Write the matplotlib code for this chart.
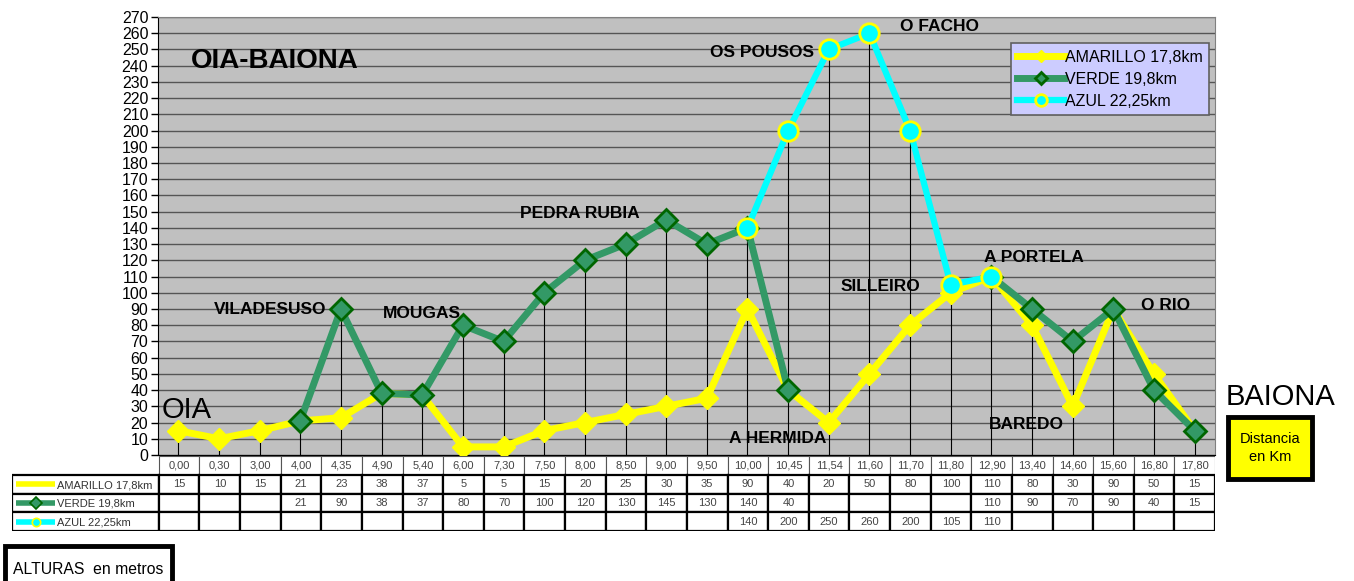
import numpy as np
import matplotlib
matplotlib.use('Agg')
import matplotlib.pyplot as plt
from matplotlib.patches import Rectangle
from matplotlib.lines import Line2D

plt.rcParams['font.family'] = ['Liberation Sans', 'DejaVu Sans']

nan = np.nan
dist = ['0,00', '0,30', '3,00', '4,00', '4,35', '4,90', '5,40', '6,00', '7,30',
        '7,50', '8,00', '8,50', '9,00', '9,50', '10,00', '10,45', '11,54',
        '11,60', '11,70', '11,80', '12,90', '13,40', '14,60', '15,60',
        '16,80', '17,80']
amarillo = [15, 10, 15, 21, 23, 38, 37, 5, 5, 15, 20, 25, 30, 35, 90, 40, 20,
            50, 80, 100, 110, 80, 30, 90, 50, 15]
verde = [nan, nan, nan, 21, 90, 38, 37, 80, 70, 100, 120, 130, 145, 130, 140,
         40, nan, nan, nan, nan, 110, 90, 70, 90, 40, 15]
azul = [nan] * 14 + [140, 200, 250, 260, 200, 105, 110] + [nan] * 5
names = ['AMARILLO 17,8km', 'VERDE 19,8km', 'AZUL 22,25km']

places = [('VILADESUSO', 2.26, 90), ('MOUGAS', 6.0, 87), ('PEDRA RUBIA', 9.88, 149),
          ('OS POUSOS', 14.36, 248), ('O FACHO', 18.73, 264), ('SILLEIRO', 17.26, 104),
          ('A PORTELA', 21.04, 122), ('O RIO', 24.29, 92), ('BAREDO', 20.85, 19),
          ('A HERMIDA', 14.75, 10)]

styles = [
    dict(color='#FFFF00', lw=5, marker='D', ms=11, mfc='#FFFF00', mec='#FFFF00'),
    dict(color='#339966', lw=5, marker='D', ms=11, mfc='#339966', mec='#006600', mew=2),
    dict(color='#00FFFF', lw=4.5, marker='o', ms=14, mfc='#00FFFF', mec='#FFFF00', mew=2),
]
series = [amarillo, verde, azul]

W, H = 1354, 581
fig = plt.figure(figsize=(W / 100, H / 100), dpi=100)
fig.patch.set_facecolor('white')

ax = fig.add_axes([158 / W, 1 - 455 / H, (1215 - 158) / W, (455 - 17) / H])
ax.set_facecolor('#C0C0C0')
x = np.arange(len(dist))
ax.set_xlim(-0.5, len(dist) - 0.5)
ax.set_ylim(0, 270)
ax.set_yticks(range(0, 271, 10))
ax.tick_params(axis='y', labelsize=11.5, length=5, width=1, pad=2)
ax.set_xticks([])
for t in ax.get_yticklabels():
    t.set_fontstretch('condensed')
ax.yaxis.grid(True, color='#555555', lw=1.0)
ax.set_axisbelow(True)
for s in ['top', 'right']:
    ax.spines[s].set_color('#808080')
ax.spines['left'].set_color('black')
ax.spines['bottom'].set_color('black')

top = np.nanmax(np.array(series, dtype=float), axis=0)
ax.vlines(x, 0, top, color='black', lw=0.8, zorder=1.5)

for vals, st in zip(series, styles):
    ax.plot(x, vals, zorder=3, **st)

handles = [Line2D([], [], **dict(st, ms=st['ms'] * 0.6)) for st in styles]
leg = ax.legend(handles, names, loc='upper right', bbox_to_anchor=(0.994, 0.94),
                borderaxespad=0, fontsize=11.5, handlelength=2.9, handletextpad=0.05,
                labelspacing=0.45, fancybox=False, framealpha=1,
                facecolor='#CCCCFF', edgecolor='#606060', borderpad=0.4)
leg.get_frame().set_linewidth(1.2)

for name, px, py in places:
    ax.text(px, py, name, ha='center', va='center', fontsize=12.5, fontweight='bold', zorder=4)
ax.text(0.3, 243, 'OIA-BAIONA', ha='left', va='center', fontsize=20, fontweight='bold', zorder=4)
ax.text(-0.42, 28, 'OIA', ha='left', va='center', fontsize=21, zorder=4)
fig.text(1226 / W, 1 - 397 / H, 'BAIONA', ha='left', va='center', fontsize=21)

# Distancia box
fig.patches.append(Rectangle((1228 / W, 1 - 479 / H), 84 / W, 62 / H, transform=fig.transFigure,
                             facecolor='#FFFF00', edgecolor='black', lw=3.5))
fig.text(1270 / W, 1 - 448 / H, 'Distancia\nen Km', ha='center', va='center', fontsize=10.5,
         linespacing=1.4)

# ALTURAS box
fig.patches.append(Rectangle((5 / W, -0.02), 167 / W, 35 / H + 0.02, transform=fig.transFigure,
                             facecolor='white', edgecolor='black', lw=3.5))
fig.text(13 / W, 1 - 569 / H, 'ALTURAS  en metros', ha='left', va='center', fontsize=11.3)

# data table
left_u = -0.5 - (159 - 12) / ((1215 - 158) / len(dist))
tab = fig.add_axes([12 / W, 1 - 531 / H, (1215 - 12) / W, (531 - 456) / H])
tab.set_xlim(left_u, len(dist) - 0.5)
tab.set_ylim(0, 4)
tab.axis('off')
for i, d in enumerate(dist):
    tab.add_patch(Rectangle((i - 0.5, 3), 1, 1, facecolor='white', edgecolor='#555555', lw=0.8))
    tab.text(i, 3.5, d, ha='center', va='center', fontsize=8, color='#444444')
for r, (vals, st, nm) in enumerate(zip(series, styles, names)):
    y0 = 2 - r
    tab.add_patch(Rectangle((left_u, y0), -0.5 - left_u, 1, facecolor='white',
                            edgecolor='black', lw=1.6))
    tab.plot([left_u + 0.1, left_u + 1.05], [y0 + 0.5] * 2, color=st['color'], lw=4,
             solid_capstyle='butt')
    if r > 0:
        tab.plot([left_u + 0.58], [y0 + 0.5], marker=st['marker'], ms=6, mfc=st['mfc'],
                 mec=st['mec'], mew=1.2, ls='none')
    tab.text(left_u + 1.1, y0 + 0.45, nm, ha='left', va='center', fontsize=8,
             color='#333333')
    for i, v in enumerate(vals):
        tab.add_patch(Rectangle((i - 0.5, y0), 1, 1, facecolor='white', edgecolor='black', lw=1.6))
        if not np.isnan(v):
            tab.text(i, y0 + 0.5, str(int(v)), ha='center', va='center', fontsize=8,
                     color='#444444')

fig.savefig('out.png', dpi=100)
